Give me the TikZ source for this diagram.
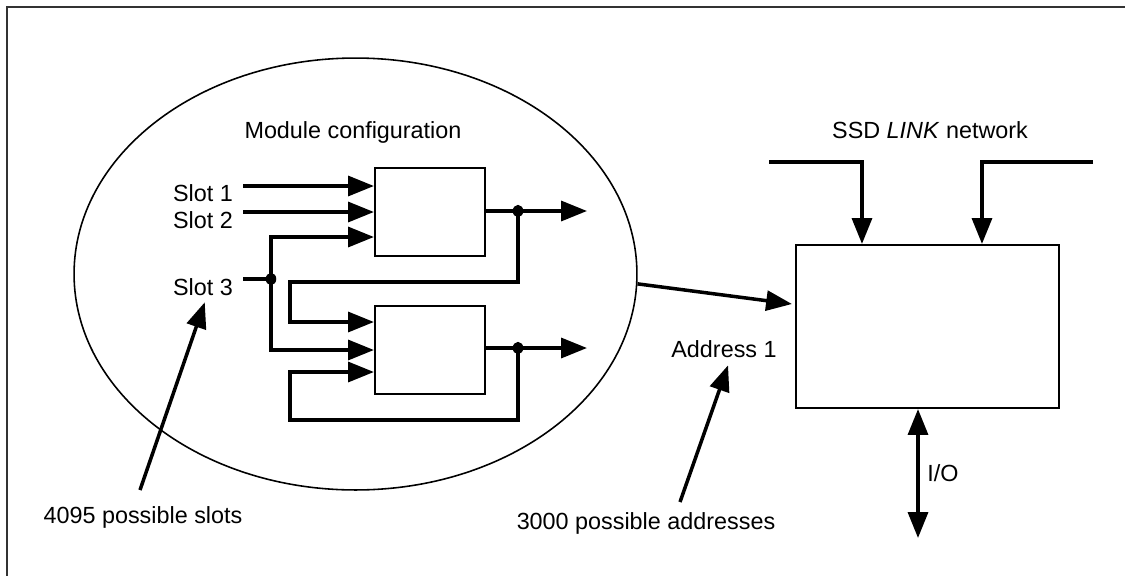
\documentclass[tikz,border=0pt]{standalone}
\usepackage{fontspec}
\setmainfont{Liberation Sans}
\usetikzlibrary{arrows.meta,shapes.geometric,calc,positioning}
\newcommand\lblfont{\fontsize{13.3}{16}\selectfont}

\begin{document}
\begin{tikzpicture}[x=0.02cm,y=-0.02cm,
   every node/.style={font=\lblfont,inner sep=0pt},
   modbox/.style={draw,line width=1.2pt,minimum width=2.2cm,minimum height=1.76cm},
   wire/.style={line width=2pt},
   sig/.style={wire,-{Triangle[length=14.7pt,width=11.3pt]}},
   bisig/.style={wire,{Triangle[length=14.7pt,width=11.3pt]}-{Triangle[length=14.7pt,width=11.3pt]}},
   junc/.style={ellipse,fill,minimum width=6pt,minimum height=7pt}]
\useasboundingbox (0,0) rectangle (1125,575);
\draw[line width=1.2pt,black!80] (7,580) |- (1130,7);

% module configuration
\node[ellipse,draw,line width=0.9pt,minimum width=11.26cm,minimum height=8.64cm] (cfg) at (355.5,274) {};
\node (title) at (353,132) {Module configuration};
\node[modbox] (modA) at (430,212) {};
\node[modbox] (modB) at (430,350) {};
\node (slot1) at (203,193) {Slot 1};
\node (slot2) at (203,220) {Slot 2};
\node (slot3) at (203,287) {Slot 3};
\coordinate (in1) at (243,186);
\coordinate (in2) at (243,212);
\coordinate (in3) at (243,279);
\node[junc] (j3) at (271,279) {};
\node[junc] (jA) at (518,211) {};
\node[junc] (jB) at (518,348) {};
\coordinate (outA) at (587,211);
\coordinate (outB) at (587,348);
\coordinate (fbA) at (290,282);
\coordinate (fbB) at (290,420);
\draw[sig] (in1) -- (in1 -| modA.west);
\draw[sig] (in2) -- (in2 -| modA.west);
\draw[wire] (in3) -- (j3.center);
\draw[sig] (j3.center) |- ($(modA.west)+(0,25)$);
\draw[sig] (j3.center) |- (modB.west);
\draw[wire] (jA.center -| modA.east) -- (jA.center);
\draw[sig] (jA.center) -- (outA);
\draw[sig] (jA.center) |- (fbA) |- ($(modB.west)+(0,-28)$);
\draw[wire] (jB.center -| modB.east) -- (jB.center);
\draw[sig] (jB.center) -- (outB);
\draw[sig] (jB.center) |- (fbB) |- ($(modB.west)+(0,22)$);

% slot note
\node (slots) at (143,517) {4095 possible slots};
\coordinate (slotsTail) at (140,490);
\draw[sig] (slotsTail) -- ([xshift=1pt,yshift=-3.6pt]slot3.south);

% SSD link
\node[draw,line width=1.2pt,minimum width=5.26cm,minimum height=3.26cm] (ssd) at (927.5,326.5) {};
\node (net) at (930,130) {SSD \textit{LINK} network};
\coordinate (netL) at (769,162);
\coordinate (netR) at (1093,162);
\draw[sig] (netL) -| ($(ssd.north west)+(67,0)$);
\draw[sig] (netR) -| ($(ssd.north west)+(187,0)$);
\draw[sig] (cfg.-2.3) -- ($(ssd.west)+(-3,-22.5)$);
\node (addr) at (724,349) {Address 1};
\node (addrs) at (646,523) {3000 possible addresses};
\coordinate (addrTail) at (680,502);
\draw[sig] (addrTail) -- ([xshift=2.3pt,yshift=-4.2pt]addr.south);
\coordinate (ioEnd) at (918,538);
\draw[bisig] (ioEnd) -- (ioEnd |- ssd.south);
\node (io) at (943,473) {I/O};
\end{tikzpicture}
\end{document}
